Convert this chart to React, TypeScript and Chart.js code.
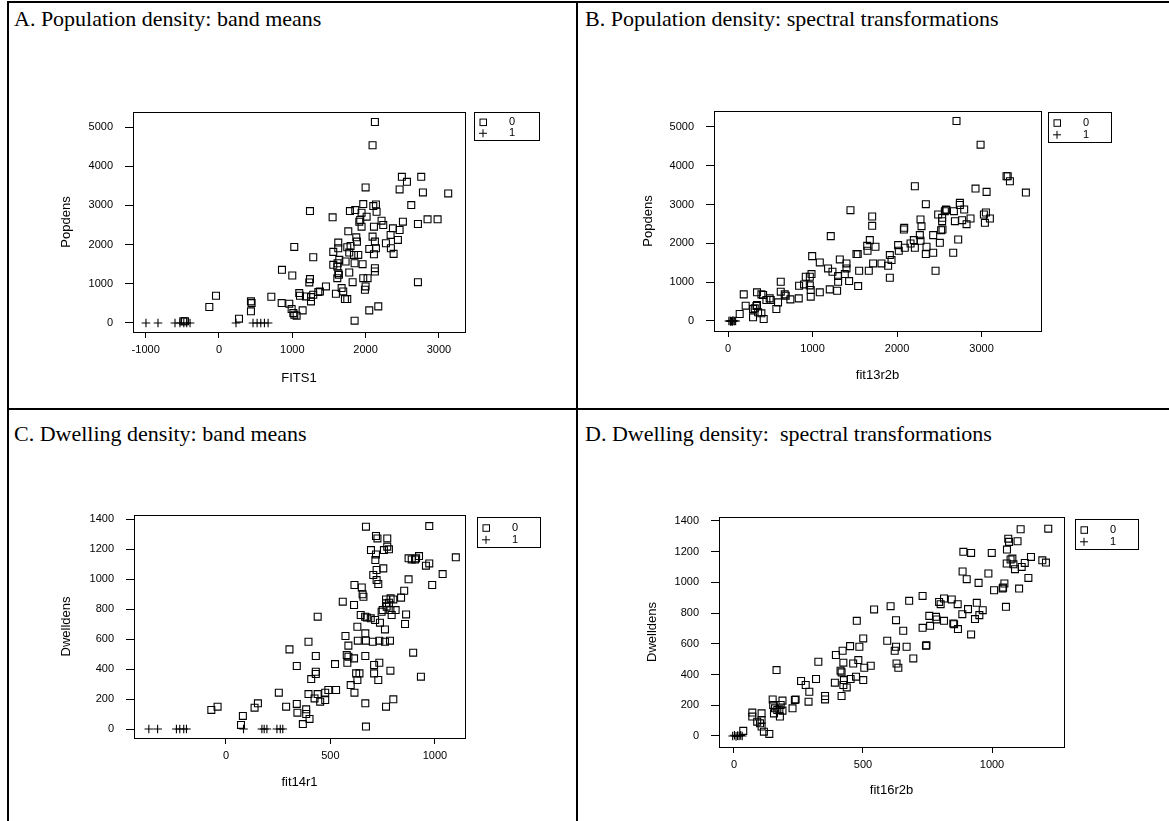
import React, { useEffect, useRef } from "react";
import { Chart, registerables } from "chart.js";
Chart.register(...registerables);

// ---------- Data ----------
// A. Population density vs FITS1 (band means)
const popBand0: number[][] = [
  [-486, 42], [-464, 42], [-132, 407], [-41, 695], [273, 110], [436, 551], [445, 508], [436, 297], [714, 669], [855, 508],
  [959, 492], [991, 356], [1014, 254], [1027, 212], [1059, 186], [1141, 322], [1000, 1212], [1027, 1941], [859, 1356], [1095, 763],
  [1105, 695], [1186, 678], [1232, 1034], [1241, 1119], [1241, 2856], [1255, 661], [1255, 551], [1286, 1678], [1286, 720], [1355, 788],
  [1377, 805], [1459, 932], [1550, 2695], [1559, 1483], [1559, 1814], [1595, 746], [1614, 1441], [1618, 1525], [1627, 2051], [1627, 1907],
  [1627, 1271], [1614, 1144], [1636, 1229], [1641, 1610], [1673, 890], [1695, 805], [1718, 610], [1750, 610], [1727, 1568], [1750, 1932],
  [1764, 2339], [1786, 2856], [1777, 1288], [1777, 1797], [1795, 1966], [1823, 1042], [1841, 1737], [1850, 1525], [1850, 59], [1859, 2881],
  [1873, 2186], [1882, 2076], [1900, 1737], [1914, 2585], [1927, 2627], [1945, 2458], [1945, 2814], [1968, 3034], [1959, 1500], [1968, 1144],
  [1991, 847], [2000, 3458], [2000, 932], [2014, 2712], [2027, 1144], [2050, 1890], [2050, 322], [2095, 4534], [2127, 5127], [2105, 2983],
  [2141, 3025], [2150, 2839], [2114, 2458], [2095, 2203], [2127, 2076], [2141, 1907], [2114, 1754], [2127, 1398], [2127, 1314], [2173, 424],
  [2218, 2610], [2241, 2500], [2277, 2034], [2341, 2246], [2345, 1907], [2373, 2415], [2382, 1763], [2441, 2119], [2464, 2373], [2464, 3407],
  [2495, 3729], [2509, 2585], [2564, 3602], [2623, 3008], [2714, 2525], [2714, 1042], [2759, 3729], [2782, 3331], [2845, 2644], [2982, 2644],
  [3127, 3305],
];
const popBand1: number[][] = [
  [-996, 0], [-832, 0], [-600, 0], [-532, 0], [-480, 0], [-440, 0], [-395, 0], [232, 0], [464, 0], [520, 0], [570, 0], [620, 0], [670, 0],
];

// B. Population density vs fit13r2b (spectral transformations)
const popSpec0: number[][] = [
  [2704, 5154], [2989, 4545], [3296, 3731], [3310, 3731], [3336, 3602], [3525, 3310], [2929, 3413], [3060, 3328], [2211, 3473], [2341, 3010],
  [2744, 3045], [2744, 2990], [1449, 2856], [1706, 2693], [1706, 2453], [2578, 2873], [2586, 2860], [2566, 2830], [2673, 2830], [2795, 2873],
  [2487, 2744], [2534, 2659], [2534, 2573], [2685, 2573], [2771, 2599], [2870, 2642], [2823, 2496], [3028, 2744], [3052, 2796], [3099, 2642],
  [3040, 2530], [2278, 2616], [2290, 2444], [2081, 2358], [2085, 2401], [1216, 2187], [2538, 2358], [2522, 2340], [2428, 2213], [2724, 2101],
  [2270, 2213], [2278, 2067], [2507, 2015], [2665, 1758], [2199, 2084], [2160, 1998], [2013, 1955], [2021, 1810], [2092, 1887], [2211, 1887],
  [2349, 1913], [2341, 1724], [2428, 1758], [2456, 1295], [1678, 2084], [1647, 1938], [1745, 1913], [1651, 1810], [1520, 1724], [1535, 1724],
  [1915, 1698], [1935, 1570], [1895, 1424], [1915, 1115], [1816, 1484], [1717, 1484], [1666, 1295], [1552, 1295], [1540, 900], [1323, 1587],
  [1402, 1484], [1402, 1355], [1382, 1209], [1433, 1029], [1303, 1158], [1303, 1012], [1236, 1269], [1184, 1355], [1086, 1509], [996, 1672],
  [988, 1209], [968, 1141], [920, 1141], [900, 943], [968, 918], [979, 798], [979, 626], [841, 909], [837, 583], [1086, 738],
  [1204, 815], [1291, 780], [624, 1012], [624, 755], [671, 686], [683, 652], [738, 557], [592, 480], [572, 309], [505, 540],
  [493, 583], [454, 540], [415, 669], [395, 686], [343, 738], [186, 686], [209, 395], [138, 180], [296, 309], [316, 326],
  [336, 386], [356, 223], [395, 197], [296, 94], [422, 51], [343, 412],
];
const popSpec1: number[][] = [
  [10, 0], [25, 5], [40, -5], [50, 0], [60, 10], [75, 0], [90, 0], [30, -10], [55, -10],
];

// C. Dwelling density vs fit14r1 (band means)
const dwBand0: number[][] = [
  [-70, 127], [-40, 149], [72, 27], [81, 87], [137, 142], [153, 171], [253, 242], [288, 149], [304, 531], [339, 420],
  [339, 167], [342, 109], [368, 33], [384, 131], [384, 100], [400, 67], [395, 582], [395, 233], [430, 487], [430, 382],
  [430, 367], [408, 333], [439, 749], [424, 204], [439, 233], [451, 182], [475, 193], [475, 242], [490, 260], [527, 260],
  [522, 433], [559, 849], [572, 620], [586, 556], [586, 482], [578, 493], [581, 442], [613, 471], [597, 293], [615, 242],
  [623, 371], [629, 327], [639, 371], [629, 682], [613, 827], [615, 960], [650, 944], [654, 898], [658, 882], [645, 760],
  [666, 749], [674, 744], [670, 1349], [667, 638], [667, 487], [667, 171], [670, 16], [631, 589], [670, 589], [693, 738],
  [703, 582], [714, 727], [734, 589], [694, 1193], [705, 1027], [718, 1164], [718, 1287], [725, 1271], [715, 1127], [721, 1060],
  [721, 993], [729, 967], [737, 709], [761, 664], [729, 327], [734, 442], [709, 427], [709, 371], [753, 1071], [756, 1193],
  [772, 1216], [772, 1271], [780, 1198], [745, 782], [750, 793], [766, 864], [766, 838], [769, 816], [780, 842], [788, 871],
  [793, 760], [787, 793], [812, 793], [801, 864], [761, 582], [785, 589], [766, 149], [787, 389], [801, 198], [838, 876],
  [853, 922], [874, 998], [862, 764], [857, 700], [896, 509], [933, 349], [874, 1138], [889, 1131], [905, 1131], [924, 1153],
  [910, 1138], [957, 1089], [973, 1104], [973, 1353], [987, 960], [1037, 1033], [1100, 1145],
];
const dwBand1: number[][] = [
  [-369, 0], [-327, 0], [-237, 0], [-221, 0], [-202, 0], [-189, 0], [84, 0], [172, 0], [183, 0], [196, 0], [244, 0], [260, 0], [272, 0],
];

// D. Dwelling density vs fit16r2b (spectral transformations)
const dwSpec0: number[][] = [
  [36, 33], [137, 13], [116, 28], [107, 61], [101, 82], [90, 93], [71, 126], [71, 152], [107, 147], [107, 104],
  [150, 238], [152, 202], [159, 180], [155, 147], [165, 429], [168, 169], [176, 173], [178, 126], [181, 202], [188, 230],
  [188, 165], [227, 180], [236, 234], [239, 238], [260, 358], [278, 332], [292, 288], [289, 223], [318, 371], [327, 483],
  [353, 260], [353, 238], [391, 347], [395, 527], [413, 425], [417, 414], [417, 260], [421, 555], [424, 477], [426, 364],
  [424, 332], [437, 316], [452, 371], [450, 585], [462, 472], [473, 386], [476, 750], [482, 494], [486, 581], [501, 635],
  [501, 364], [505, 444], [530, 457], [543, 824], [594, 620], [607, 845], [623, 555], [628, 581], [630, 472], [637, 444],
  [628, 754], [656, 685], [669, 581], [679, 880], [695, 505], [731, 704], [731, 912], [744, 587], [746, 590], [760, 717],
  [757, 782], [783, 776], [785, 759], [795, 873], [801, 858], [814, 895], [814, 750], [844, 889], [850, 733], [853, 728],
  [868, 696], [867, 858], [885, 793], [907, 826], [919, 661], [934, 761], [941, 867], [951, 787], [964, 819], [886, 1071],
  [902, 1021], [889, 1199], [919, 1192], [948, 997], [986, 1058], [999, 1192], [1008, 949], [1041, 960], [1043, 966], [1048, 993],
  [1054, 841], [1057, 1123], [1058, 1214], [1063, 1285], [1066, 1264], [1072, 1149], [1079, 1155], [1083, 1118], [1089, 1086], [1099, 1268],
  [1105, 960], [1111, 1346], [1115, 1101], [1127, 1127], [1141, 1029], [1151, 1166], [1195, 1144], [1209, 1129], [1218, 1350],
];
const dwSpec1: number[][] = [
  [-5, 0], [2, 5], [8, -3], [14, 2], [20, 0], [26, 4], [32, 0],
];

// Tick values
const popYTicks = [0, 1000, 2000, 3000, 4000, 5000];
const dwYTicks = [0, 200, 400, 600, 800, 1000, 1200, 1400];
const xTicksA = [-1000, 0, 1000, 2000, 3000];
const xTicksB = [0, 1000, 2000, 3000];
const xTicksC = [0, 500, 1000];
const xTicksD = [0, 500, 1000];
const legendLabels = ["0", "1"];

const panelTitles = [
  "A. Population density: band means",
  "B. Population density: spectral transformations",
  "C. Dwelling density: band means",
  "D. Dwelling density:  spectral transformations",
];

// ---------- Layout ----------
const SANS = '"Liberation Sans", Arial, Helvetica, sans-serif';
const SERIF = '"Liberation Serif", "Times New Roman", Times, serif';

type Panel = {
  key: string;
  g0: number[][];
  g1: number[][];
  xTicks: number[];
  yTicks: number[];
  xTitle: string;
  yTitle: string;
  xMin: number; xMax: number; yMin: number; yMax: number;
  canvas: { left: number; top: number; width: number; height: number };
  area: { L: number; T: number; R: number; B: number };
  yTitleX: number;
  xTitleY: number;
  legend: { x: number; y: number; w: number; h: number };
};

const panels: Panel[] = [
  {
    key: "A", g0: popBand0, g1: popBand1, xTicks: xTicksA, yTicks: popYTicks,
    xTitle: "FITS1", yTitle: "Popdens",
    xMin: -1173, xMax: 3356, yMin: -230, yMax: 5383,
    canvas: { left: 40, top: 60, width: 530, height: 345 },
    area: { L: 133, T: 112, R: 465, B: 332 },
    yTitleX: 66, xTitleY: 378,
    legend: { x: 474, y: 112, w: 65, h: 28 },
  },
  {
    key: "B", g0: popSpec0, g1: popSpec1, xTicks: xTicksB, yTicks: popYTicks,
    xTitle: "fit13r2b", yTitle: "Popdens",
    xMin: -166, xMax: 3704, yMin: -258, yMax: 5412,
    canvas: { left: 620, top: 60, width: 549, height: 345 },
    area: { L: 714, T: 111, R: 1041, B: 331 },
    yTitleX: 648, xTitleY: 375,
    legend: { x: 1048, y: 112, w: 63, h: 30 },
  },
  {
    key: "C", g0: dwBand0, g1: dwBand1, xTicks: xTicksC, yTicks: dwYTicks,
    xTitle: "fit14r1", yTitle: "Dwelldens",
    xMin: -440, xMax: 1144, yMin: -60, yMax: 1427,
    canvas: { left: 40, top: 470, width: 530, height: 345 },
    area: { L: 134, T: 515, R: 465, B: 738 },
    yTitleX: 66, xTitleY: 782,
    legend: { x: 477, y: 517, w: 63, h: 30 },
  },
  {
    key: "D", g0: dwSpec0, g1: dwSpec1, xTicks: xTicksD, yTicks: dwYTicks,
    xTitle: "fit16r2b", yTitle: "Dwelldens",
    xMin: -58, xMax: 1279, yMin: -72, yMax: 1426,
    canvas: { left: 620, top: 470, width: 549, height: 345 },
    area: { L: 719, T: 517, R: 1064, B: 747 },
    yTitleX: 652, xTitleY: 790,
    legend: { x: 1075, y: 519, w: 63, h: 30 },
  },
];

const rBoxPlugin = {
  id: "rbox",
  afterDraw(chart: any, _args: any, opts: any) {
    const { ctx, chartArea: a } = chart;
    ctx.save();
    ctx.strokeStyle = "#000";
    ctx.lineWidth = 1;
    ctx.strokeRect(
      Math.round(a.left) + 0.5,
      Math.round(a.top) + 0.5,
      Math.round(a.right - a.left),
      Math.round(a.bottom - a.top)
    );
    const lg = opts.legend;
    if (lg) {
      ctx.strokeRect(Math.round(lg.x) + 0.5, Math.round(lg.y) + 0.5, lg.w, lg.h);
      const r1 = lg.y + lg.h * 0.36;
      const r2 = lg.y + lg.h * 0.76;
      const sx = lg.x + 9;
      ctx.strokeRect(sx - 3, r1 - 3, 6.5, 6.5);
      ctx.beginPath();
      ctx.moveTo(sx - 4, r2);
      ctx.lineTo(sx + 4, r2);
      ctx.moveTo(sx, r2 - 4);
      ctx.lineTo(sx, r2 + 4);
      ctx.stroke();
      ctx.fillStyle = "#000";
      ctx.font = `11px ${SANS}`;
      ctx.textAlign = "left";
      ctx.textBaseline = "middle";
      ctx.fillText(legendLabels[0], lg.x + 35, r1);
      ctx.fillText(legendLabels[1], lg.x + 35, r2);
    }
    ctx.restore();
  },
};

function PanelChart({ p }: { p: Panel }) {
  const ref = useRef<HTMLCanvasElement | null>(null);
  useEffect(() => {
    if (!ref.current) return;
    const c = p.canvas;
    const lh = 13 * 1.2;
    const yTitlePad = p.yTitleX - c.left - lh / 2;
    const xTitlePad = c.top + c.height - p.xTitleY - lh / 2;
    const chart = new Chart(ref.current, {
      type: "scatter",
      data: {
        datasets: [
          {
            data: p.g0.map(([x, y]) => ({ x, y })),
            pointStyle: "rect",
            pointRadius: 4.9,
            borderColor: "#000",
            backgroundColor: "rgba(0,0,0,0)",
            borderWidth: 1.1,
          },
          {
            data: p.g1.map(([x, y]) => ({ x, y })),
            pointStyle: "cross",
            pointRadius: 4.3,
            borderColor: "#000",
            backgroundColor: "rgba(0,0,0,0)",
            borderWidth: 1.1,
          },
        ],
      },
      options: {
        animation: false,
        responsive: false,
        devicePixelRatio: 1,
        events: [],
        layout: {
          padding: {
            left: 0,
            top: p.area.T - c.top,
            right: c.left + c.width - p.area.R,
            bottom: 0,
          },
        },
        plugins: {
          legend: { display: false },
          tooltip: { enabled: false },
          rbox: {
            legend: { ...p.legend, x: p.legend.x - c.left, y: p.legend.y - c.top },
          },
        } as any,
        scales: {
          x: {
            type: "linear",
            min: p.xMin,
            max: p.xMax,
            afterBuildTicks: (s: any) => {
              s.ticks = p.xTicks.map((v) => ({ value: v }));
            },
            afterFit: (s: any) => {
              s.height = c.top + c.height - p.area.B;
            },
            ticks: {
              color: "#000",
              font: { family: SANS, size: 11 },
              padding: 5,
              maxRotation: 0,
              autoSkip: false,
              callback: (v: any) => String(v),
            },
            grid: { display: true, drawOnChartArea: false, drawTicks: true, tickLength: 6, color: "#000", lineWidth: 1 },
            border: { display: false },
            title: {
              display: true,
              text: p.xTitle,
              color: "#000",
              font: { family: SANS, size: 13 },
              padding: { top: 0, bottom: xTitlePad },
            },
          },
          y: {
            type: "linear",
            min: p.yMin,
            max: p.yMax,
            afterBuildTicks: (s: any) => {
              s.ticks = p.yTicks.map((v) => ({ value: v }));
            },
            afterFit: (s: any) => {
              s.width = p.area.L - c.left;
            },
            ticks: {
              color: "#000",
              font: { family: SANS, size: 11 },
              padding: 12,
              autoSkip: false,
              callback: (v: any) => String(v),
            },
            grid: { display: true, drawOnChartArea: false, drawTicks: true, tickLength: 8, color: "#000", lineWidth: 1 },
            border: { display: false },
            title: {
              display: true,
              text: p.yTitle,
              color: "#000",
              font: { family: SANS, size: 13 },
              padding: { top: yTitlePad, bottom: 0 },
            },
          },
        },
      } as any,
      plugins: [rBoxPlugin as any],
    });
    return () => chart.destroy();
  }, [p]);
  return (
    <canvas
      ref={ref}
      width={p.canvas.width}
      height={p.canvas.height}
      style={{
        position: "absolute",
        left: p.canvas.left,
        top: p.canvas.top,
        width: p.canvas.width,
        height: p.canvas.height,
      }}
    />
  );
}

const lineStyle = (left: number, top: number, width: number, height: number): React.CSSProperties => ({
  position: "absolute",
  left,
  top,
  width,
  height,
  background: "#000",
});

export default function App() {
  const titlePos = [
    { left: 14, top: 6 },
    { left: 585, top: 6 },
    { left: 14, top: 421 },
    { left: 585, top: 421 },
  ];
  return (
    <div
      style={{
        position: "fixed",
        left: 0,
        top: 0,
        width: 1169,
        height: 821,
        background: "#fff",
        overflow: "hidden",
      }}
    >
      <div style={lineStyle(7, 1, 1170, 2)} />
      <div style={lineStyle(7, 1, 2, 830)} />
      <div style={lineStyle(576, 1, 2, 830)} />
      <div style={lineStyle(7, 408, 1170, 2)} />
      {panelTitles.map((t, i) => (
        <div
          key={i}
          style={{
            position: "absolute",
            left: titlePos[i].left,
            top: titlePos[i].top,
            fontFamily: SERIF,
            fontSize: 22,
            lineHeight: "26px",
            whiteSpace: "pre",
            color: "#000",
          }}
        >
          {t}
        </div>
      ))}
      {panels.map((p) => (
        <PanelChart key={p.key} p={p} />
      ))}
    </div>
  );
}
